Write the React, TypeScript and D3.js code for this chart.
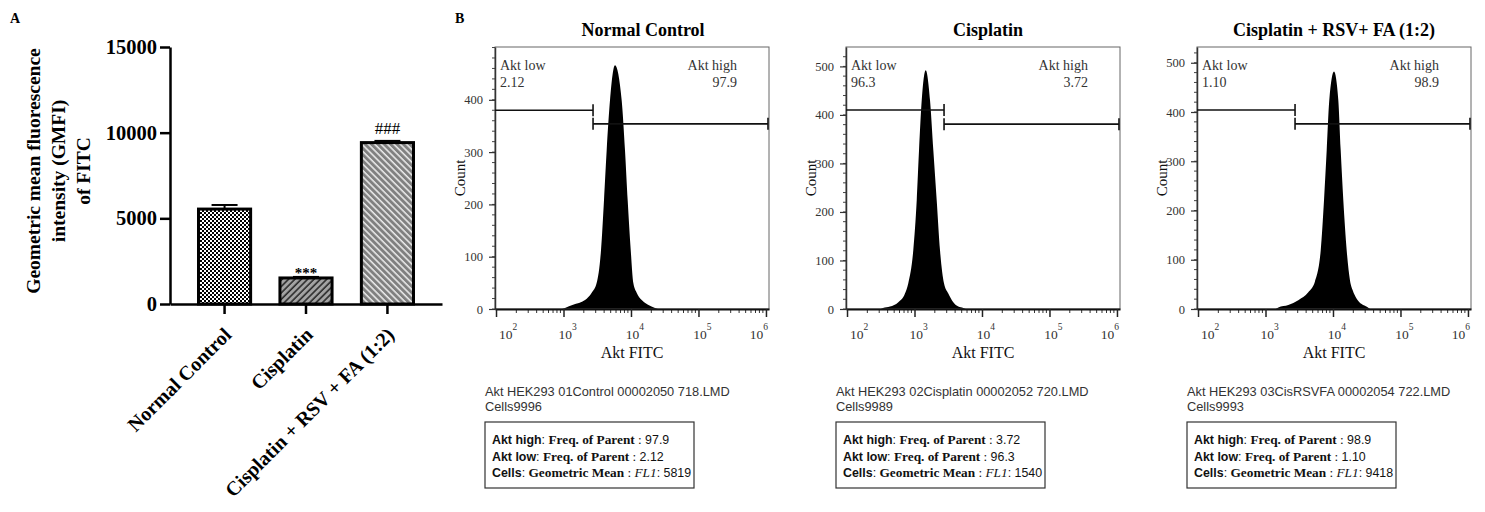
import React, { useRef, useEffect } from 'react';
import * as d3 from 'd3';

// panel A: bar chart (GMFI of FITC)
const barGroups = ['Normal Control', 'Cisplatin', 'Cisplatin + RSV + FA (1:2)'];
const barMeans = [5540, 1520, 9420];
const barErrors = [240, 60, 100];
const barMarks = ['', '***', '###'];
const barTicks = [0, 5000, 10000, 15000];

// panel B: flow cytometry histograms
const flowTitles = ['Normal Control', 'Cisplatin', 'Cisplatin + RSV+ FA (1:2)'];
const flowFiles = [
  'Akt HEK293 01Control 00002050 718.LMD',
  'Akt HEK293 02Cisplatin 00002052 720.LMD',
  'Akt HEK293 03CisRSVFA 00002054 722.LMD',
];
const flowCells = ['Cells9996', 'Cells9989', 'Cells9993'];
const aktLow = ['2.12', '96.3', '1.10'];
const aktHigh = ['97.9', '3.72', '98.9'];
const geoMean = ['5819', '1540', '9418'];
const countMax = [501, 540, 532];
const countTicks = [
  [0, 100, 200, 300, 400],
  [0, 100, 200, 300, 400, 500],
  [0, 100, 200, 300, 400, 500],
];
const fitcTicks = [1e2, 1e3, 1e4, 1e5, 1e6];
const gateCut = 2740;
const gateLowCount = [380, 410, 404];
const gateHighCount = [354, 381, 376];

// histogram outlines, log10(FITC) vs count
const ctrlLog = [2.98, 3.022, 3.141, 3.319, 3.418, 3.492, 3.556, 3.6, 3.64, 3.689, 3.763, 3.862, 3.911, 3.951, 3.996, 4.034, 4.084, 4.159, 4.252, 4.356, 4.4];
const ctrlCount = [0, 2, 8, 17, 31, 50, 113, 208, 304, 399, 466, 399, 304, 208, 113, 50, 31, 17, 8, 2, 0];
const cisLog = [2.5, 2.533, 2.637, 2.76, 2.859, 2.908, 2.982, 3.033, 3.067, 3.107, 3.166, 3.23, 3.279, 3.329, 3.378, 3.437, 3.501, 3.575, 3.649, 3.723, 3.76];
const cisCount = [0, 2, 5, 14, 32, 53, 121, 224, 327, 430, 492, 430, 327, 224, 121, 53, 32, 14, 5, 2, 0];
const comboLog = [3.15, 3.19, 3.338, 3.486, 3.634, 3.733, 3.818, 3.867, 3.907, 3.945, 4.015, 4.079, 4.114, 4.153, 4.203, 4.252, 4.292, 4.351, 4.425, 4.508, 4.55];
const comboCount = [0, 3, 8, 18, 34, 56, 119, 221, 323, 424, 482, 424, 323, 221, 119, 58, 38, 21, 10, 4, 0];

const flowLogs = [ctrlLog, cisLog, comboLog];
const flowCounts = [ctrlCount, cisCount, comboCount];

export default function App() {
  const svgRef = useRef<SVGSVGElement>(null);

  useEffect(() => {
    document.body.style.margin = '0';
    const serif = "'Liberation Serif', 'Times New Roman', serif";
    const sans = "'Liberation Sans', Arial, sans-serif";

    const svg = d3.select(svgRef.current);
    svg.selectAll('*').remove();

    // ---------- patterns
    const defs = svg.append('defs');
    const checker = defs.append('pattern').attr('id', 'checker')
      .attr('patternUnits', 'userSpaceOnUse').attr('width', 4).attr('height', 4);
    checker.append('rect').attr('width', 4).attr('height', 4).attr('fill', '#fff');
    checker.append('rect').attr('width', 2).attr('height', 2).attr('fill', '#000');
    checker.append('rect').attr('x', 2).attr('y', 2).attr('width', 2).attr('height', 2).attr('fill', '#000');

    const hatch = (id: string, bg: string, fg: string, angle: number, w: number) => {
      const p = defs.append('pattern').attr('id', id)
        .attr('patternUnits', 'userSpaceOnUse')
        .attr('width', 4.5).attr('height', 4.5)
        .attr('patternTransform', `rotate(${angle})`);
      p.append('rect').attr('width', 4.5).attr('height', 4.5).attr('fill', bg);
      p.append('line').attr('x1', 1).attr('x2', 1).attr('y1', 0).attr('y2', 4.5)
        .attr('stroke', fg).attr('stroke-width', w);
    };
    hatch('hatchDark', '#a3a3a3', '#222', 45, 1.5);
    hatch('hatchLight', '#808080', '#fff', -45, 1.3);
    const barFills = ['url(#checker)', 'url(#hatchDark)', 'url(#hatchLight)'];

    // ---------- panel A
    svg.append('text').attr('x', 10).attr('y', 23).attr('font-family', serif)
      .attr('font-weight', 'bold').attr('font-size', 14).text('A');

    const yA = d3.scaleLinear().domain([0, 15000]).range([304, 47]);
    const xA = d3.scaleBand().domain(barGroups).range([170, 442])
      .paddingInner(0.36).paddingOuter(0.35);

    const gBars = svg.append('g');
    gBars.selectAll('rect').data(barGroups).join('rect')
      .attr('x', d => xA(d)!)
      .attr('y', (d, i) => yA(barMeans[i]))
      .attr('width', xA.bandwidth())
      .attr('height', (d, i) => yA(0) - yA(barMeans[i]))
      .attr('fill', (d, i) => barFills[i])
      .attr('stroke', '#000').attr('stroke-width', 3);

    barGroups.forEach((d, i) => {
      const cx = xA(d)! + xA.bandwidth() / 2;
      const top = yA(barMeans[i] + barErrors[i]);
      gBars.append('line').attr('x1', cx).attr('x2', cx)
        .attr('y1', yA(barMeans[i])).attr('y2', top).attr('stroke', '#000').attr('stroke-width', 2);
      gBars.append('line').attr('x1', cx - 13).attr('x2', cx + 13)
        .attr('y1', top).attr('y2', top).attr('stroke', '#000').attr('stroke-width', 2);
      if (barMarks[i]) {
        gBars.append('text').attr('x', cx).attr('y', barMarks[i] === '***' ? top + 1 : top - 7)
          .attr('text-anchor', 'middle').attr('font-family', serif)
          .attr('font-size', barMarks[i] === '***' ? 15 : 17)
          .attr('font-weight', barMarks[i] === '***' ? 'bold' : 'normal')
          .text(barMarks[i]);
      }
    });

    const axLeftA = svg.append('g').attr('transform', 'translate(170,0)')
      .call(d3.axisLeft(yA).tickValues(barTicks).tickSize(10).tickSizeOuter(0)
        .tickPadding(3).tickFormat(d3.format('d')));
    axLeftA.select('.domain').attr('stroke-width', 2.5);
    axLeftA.selectAll('.tick line').attr('stroke-width', 2.5);
    axLeftA.selectAll('.tick text').attr('font-family', serif).attr('font-weight', 'bold')
      .attr('font-size', 20.5).attr('fill', '#000');

    const axBotA = svg.append('g').attr('transform', 'translate(0,304)')
      .call(d3.axisBottom(xA).tickSize(10).tickSizeOuter(0).tickFormat(() => ''));
    axBotA.select('.domain').attr('stroke-width', 2.5);
    axBotA.selectAll('.tick line').attr('stroke-width', 2.5);

    svg.append('g').selectAll('text').data(barGroups).join('text')
      .attr('transform', d => `translate(${xA(d)! + xA.bandwidth() / 2 + 8},336) rotate(-45)`)
      .attr('text-anchor', 'end').attr('font-family', serif).attr('font-weight', 'bold')
      .attr('font-size', 20).text(d => d);

    const yLabel = ['Geometric mean fluorescence', 'intensity (GMFI)', 'of FITC'];
    svg.append('g').selectAll('text').data(yLabel).join('text')
      .attr('transform', (d, i) => `translate(${40 + i * 25},171) rotate(-90)`)
      .attr('text-anchor', 'middle').attr('font-family', serif).attr('font-weight', 'bold')
      .attr('font-size', 19.5).text(d => d);

    // ---------- panel B
    svg.append('text').attr('x', 455).attr('y', 23).attr('font-family', serif)
      .attr('font-weight', 'bold').attr('font-size', 14).text('B');

    const flowLeft = [495, 846, 1197];
    const titleShift = [11, 5, 0];
    const flowW = 274;
    const flowTop = 47;
    const flowBottom = 309;

    flowTitles.forEach((title, i) => {
      const L = flowLeft[i];
      const R = L + flowW;
      const g = svg.append('g');
      const x = d3.scaleLog().domain([10 ** 1.985, 10 ** 6.045]).range([L, R]);
      const y = d3.scaleLinear().domain([0, countMax[i]]).range([flowBottom, flowTop]);

      g.append('text').attr('x', (L + R) / 2 + titleShift[i]).attr('y', 36)
        .attr('text-anchor', 'middle').attr('font-family', serif).attr('font-weight', 'bold')
        .attr('font-size', 18).text(title);

      const pts = flowLogs[i].map((lv, j) => [lv, flowCounts[i][j]] as [number, number]);
      const area = d3.area<[number, number]>()
        .x(d => x(10 ** d[0]))
        .y0(y(0))
        .y1(d => y(d[1]))
        .curve(d3.curveMonotoneX);
      g.append('path').datum(pts).attr('d', area).attr('fill', '#000');

      g.append('rect').attr('x', L).attr('y', flowTop).attr('width', flowW)
        .attr('height', flowBottom - flowTop).attr('fill', 'none')
        .attr('stroke', '#666').attr('stroke-width', 1);

      // y axis
      g.selectAll('.minorY').data(d3.range(0, countMax[i], 20)).join('line')
        .attr('x1', L - 3).attr('x2', L).attr('y1', d => y(d)).attr('y2', d => y(d))
        .attr('stroke', '#444').attr('stroke-width', 1);
      const axY = g.append('g').attr('transform', `translate(${L},0)`)
        .call(d3.axisLeft(y).tickValues(countTicks[i]).tickSize(6).tickSizeOuter(0).tickPadding(6));
      axY.select('.domain').attr('stroke', '#333').attr('stroke-width', 1.5);
      axY.selectAll('.tick line').attr('stroke', '#333').attr('stroke-width', 1.2);
      axY.selectAll('.tick text').attr('font-family', serif).attr('font-size', 12.5).attr('fill', '#333');

      // x axis (log)
      const minor: number[] = [];
      for (let n = 1; n <= 6; n++) {
        for (let k = 2; k <= 9; k++) {
          const v = k * 10 ** n;
          if (v > x.domain()[0] && v < x.domain()[1]) minor.push(v);
        }
      }
      g.selectAll('.minorX').data(minor).join('line')
        .attr('x1', d => x(d)).attr('x2', d => x(d))
        .attr('y1', flowBottom).attr('y2', flowBottom + 4)
        .attr('stroke', '#333').attr('stroke-width', 1);
      const axX = g.append('g').attr('transform', `translate(0,${flowBottom})`)
        .call(d3.axisBottom(x).tickValues(fitcTicks).tickSize(8).tickSizeOuter(0).tickFormat(() => ''));
      axX.select('.domain').attr('stroke', '#111').attr('stroke-width', 1.8);
      axX.selectAll('.tick line').attr('stroke', '#222').attr('stroke-width', 1.5);

      fitcTicks.forEach((v, j) => {
        const shift = j === 0 ? 12 : j === fitcTicks.length - 1 ? -7 : 4;
        const t = g.append('text').attr('x', x(v) + shift).attr('y', 339)
          .attr('text-anchor', 'middle').attr('font-family', serif).attr('font-size', 13.5)
          .attr('fill', '#333');
        t.append('tspan').text('10');
        t.append('tspan').attr('dy', -9).attr('font-size', 9.5).text(String(Math.round(Math.log10(v))));
      });

      g.append('text').attr('x', (L + R) / 2).attr('y', 358).attr('text-anchor', 'middle')
        .attr('font-family', serif).attr('font-size', 16).attr('fill', '#111').text('Akt FITC');
      g.append('text').attr('transform', `translate(${L - 30},${(flowTop + flowBottom) / 2}) rotate(-90)`)
        .attr('text-anchor', 'middle').attr('font-family', serif).attr('font-size', 15)
        .attr('fill', '#111').text('Count');

      // gates
      const gate = g.append('g').attr('stroke', '#111').attr('stroke-width', 1.6);
      const yl = y(gateLowCount[i]);
      const yh = y(gateHighCount[i]);
      const xc = x(gateCut);
      const xr = x(10 ** 6.03);
      gate.append('line').attr('x1', L).attr('x2', xc).attr('y1', yl).attr('y2', yl);
      gate.append('line').attr('x1', xc).attr('x2', xc).attr('y1', yl - 6).attr('y2', yl + 6);
      gate.append('line').attr('x1', xc).attr('x2', xr).attr('y1', yh).attr('y2', yh);
      gate.append('line').attr('x1', xc).attr('x2', xc).attr('y1', yh - 6).attr('y2', yh + 6);
      gate.append('line').attr('x1', xr).attr('x2', xr).attr('y1', yh - 6).attr('y2', yh + 6);

      const gt = g.append('g').attr('font-family', serif).attr('font-size', 14).attr('fill', '#333');
      gt.append('text').attr('x', L + 5).attr('y', 70).text('Akt low');
      gt.append('text').attr('x', L + 5).attr('y', 87).text(aktLow[i]);
      gt.append('text').attr('x', R - 32).attr('y', 70).attr('text-anchor', 'end').text('Akt high');
      gt.append('text').attr('x', R - 32).attr('y', 87).attr('text-anchor', 'end').text(aktHigh[i]);

      // info text + stats box
      g.append('text').attr('x', L - 10).attr('y', 396).attr('font-family', sans)
        .attr('font-size', 12.8).attr('fill', '#333').text(flowFiles[i]);
      g.append('text').attr('x', L - 10).attr('y', 411).attr('font-family', sans)
        .attr('font-size', 12.8).attr('fill', '#333').text(flowCells[i]);

      g.append('rect').attr('x', L - 10).attr('y', 422).attr('width', 209).attr('height', 66)
        .attr('fill', 'none').attr('stroke', '#333').attr('stroke-width', 1.2);

      const rows = [
        [['Akt high', 'bs'], [': ', 's'], ['Freq. of Parent', 'bt'], [' : ', 't'], [aktHigh[i], 's']],
        [['Akt low', 'bs'], [': ', 's'], ['Freq. of Parent', 'bt'], [' : ', 't'], [aktLow[i], 's']],
        [['Cells', 'bs'], [': ', 's'], ['Geometric Mean', 'bt'], [' : ', 't'], ['FL1', 'it'], [': ', 's'], [geoMean[i], 's']],
      ];
      rows.forEach((row, r) => {
        const t = g.append('text').attr('x', L - 3).attr('y', 444 + r * 16.5)
          .attr('fill', '#111').attr('font-size', 12.4);
        row.forEach(([txt, st]) => {
          t.append('tspan')
            .attr('font-family', st.includes('s') ? sans : serif)
            .attr('font-weight', st.startsWith('b') ? 'bold' : 'normal')
            .attr('font-style', st === 'it' ? 'italic' : 'normal')
            .attr('font-size', st.includes('t') ? 13.3 : 12.4)
            .style('white-space', 'pre')
            .text(txt);
        });
      });
    });
  }, []);

  return <svg ref={svgRef} width={1485} height={512} style={{ display: 'block', background: '#fff' }} />;
}
